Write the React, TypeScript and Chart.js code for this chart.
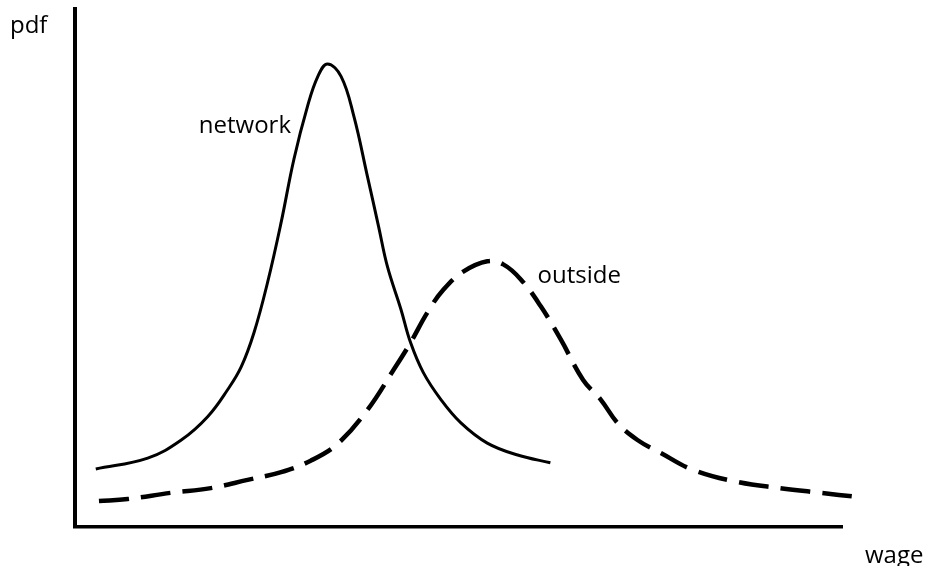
import React, { useEffect, useRef } from "react";
import { Chart, registerables } from "chart.js";

Chart.register(...registerables);

// wage (x) and pdf (y) readings of the two curves, in arbitrary units
const networkWage = [2.6, 9.1, 13.3, 16.6, 19.1, 20.8, 22.4, 24.1, 25.8, 27.4, 29.1, 30.4, 31.6, 33.3, 34.9, 36.6, 38.0, 39.1, 40.8, 42.0, 43.6, 45.8, 48.3, 51.6, 55.4, 59.5];
const networkPdf = [11.2, 13.3, 16.8, 21.3, 26.5, 30.9, 37.5, 47.2, 58.8, 71.0, 81.2, 87.0, 89.4, 87.0, 79.3, 67.7, 58.0, 50.3, 42.0, 35.6, 29.8, 24.6, 20.1, 16.2, 13.9, 12.4];

const outsideWage = [3.0, 6.6, 12.0, 17.0, 21.6, 25.8, 29.5, 32.9, 36.6, 39.9, 42.0, 44.1, 46.1, 48.6, 51.6, 53.6, 55.8, 58.3, 60.8, 63.6, 65.8, 67.9, 70.4, 73.3, 77.4, 82.9, 88.3, 93.3, 97.9];
const outsidePdf = [5.0, 5.4, 6.6, 7.5, 9.1, 10.6, 12.8, 16.1, 22.6, 30.4, 35.6, 41.4, 45.8, 49.3, 51.3, 50.7, 47.8, 42.6, 36.2, 28.4, 24.6, 20.1, 16.8, 14.3, 11.0, 8.7, 7.5, 6.6, 5.8];

const curveLabels = ["network", "outside"];
const curveLabelWage = [15.5, 57.9];
const curveLabelPdf = [76.0, 47.2];

const yAxisTitle = "pdf";
const xAxisTitle = "wage";

const FONT = '24px "Open Sans"';

const labelPlugin = {
  id: "curveLabels",
  afterDraw(chart: any) {
    const { ctx, chartArea, scales } = chart;
    ctx.save();
    ctx.font = FONT;
    ctx.fillStyle = "#000";
    ctx.textAlign = "left";
    ctx.textBaseline = "alphabetic";
    curveLabels.forEach((t, i) => {
      ctx.fillText(t, scales.x.getPixelForValue(curveLabelWage[i]), scales.y.getPixelForValue(curveLabelPdf[i]));
    });
    ctx.fillText(yAxisTitle, chartArea.left - 65, chartArea.top + 24);
    ctx.fillText(xAxisTitle, chartArea.right + 23, chartArea.bottom + 36);
    ctx.restore();
  },
};

export default function App() {
  const ref = useRef<HTMLCanvasElement | null>(null);
  useEffect(() => {
    if (!ref.current) return;
    const toPts = (xs: number[], ys: number[]) => xs.map((x, i) => ({ x, y: ys[i] }));
    const chart = new Chart(ref.current, {
      type: "line",
      data: {
        datasets: [
          {
            label: "network",
            data: toPts(networkWage, networkPdf),
            borderColor: "#000",
            borderWidth: 3,
            pointRadius: 0,
            tension: 0.4,
            fill: false,
            clip: false as any,
          },
          {
            label: "outside",
            data: toPts(outsideWage, outsidePdf),
            borderColor: "#000",
            borderWidth: 4.5,
            borderDash: [30, 12],
            pointRadius: 0,
            tension: 0.4,
            fill: false,
            clip: false as any,
          },
        ],
      },
      options: {
        animation: false,
        responsive: false,
        devicePixelRatio: 1,
        layout: { padding: { left: 75, right: 85, top: 9, bottom: 39 } },
        plugins: { legend: { display: false }, tooltip: { enabled: false } },
        scales: {
          x: {
            type: "linear",
            min: 0,
            max: 96,
            grid: { display: false, drawTicks: false, tickLength: 0 },
            ticks: { display: false, padding: 0 },
            border: { display: true, color: "#000", width: 3.5 },
          },
          y: {
            type: "linear",
            min: 0,
            max: 100,
            grid: { display: false, drawTicks: false, tickLength: 0 },
            ticks: { display: false, padding: 0 },
            border: { display: true, color: "#000", width: 4 },
          },
        },
      },
      plugins: [labelPlugin],
    });
    return () => chart.destroy();
  }, []);
  return (
    <div style={{ position: "absolute", left: 0, top: 0, width: 927, height: 566, background: "#fff" }}>
      <canvas ref={ref} width={927} height={566} />
    </div>
  );
}
